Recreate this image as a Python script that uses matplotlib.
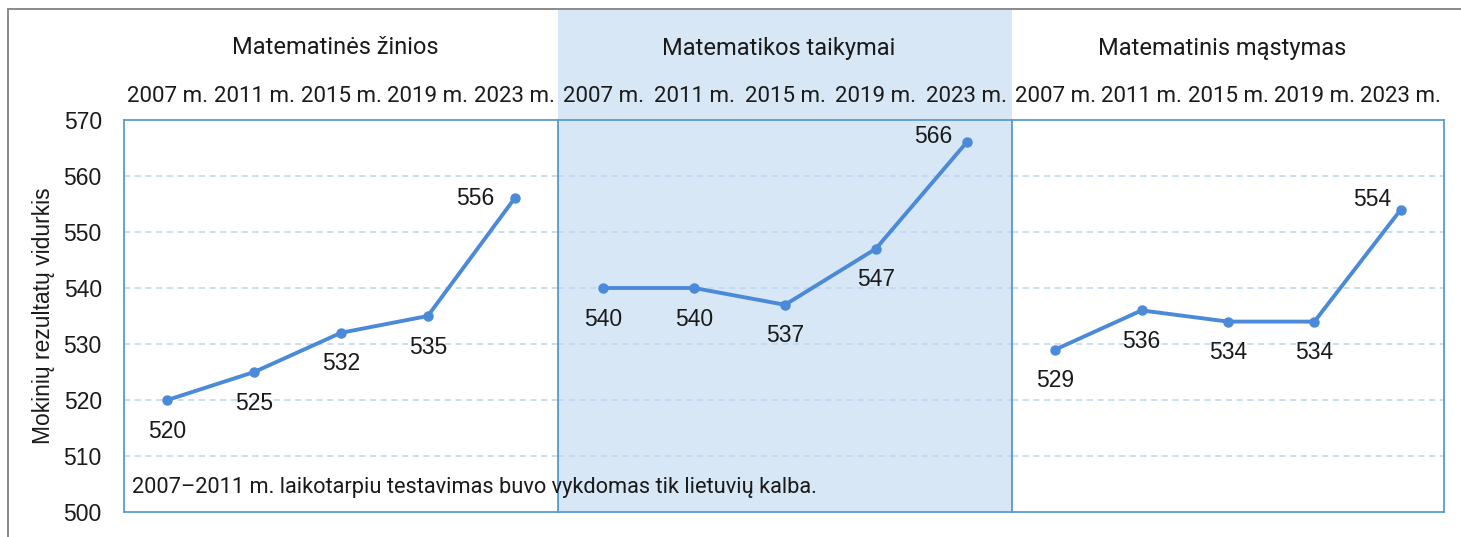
import matplotlib
matplotlib.use("Agg")
import matplotlib.pyplot as plt
from matplotlib.patches import Rectangle

# ---- data ----
panel_titles = ["Matematinės žinios", "Matematikos taikymai", "Matematinis mąstymas"]
years = ["2007 m.", "2011 m.", "2015 m.", "2019 m.", "2023 m."]
values_ziniu = [520, 525, 532, 535, 556]
values_taikymai = [540, 540, 537, 547, 566]
values_mastymas = [529, 536, 534, 534, 554]
y_ticks = [500, 510, 520, 530, 540, 550, 560, 570]
y_label = "Mokinių rezultatų vidurkis"
note = "2007–2011 m. laikotarpiu testavimas buvo vykdomas tik lietuvių kalba."

series = [values_ziniu, values_taikymai, values_mastymas]
# label placement (style, not data)
last_offsets = [(-39, 0), (-33, 6), (-29, 10)]

W, H = 1461, 537
fig = plt.figure(figsize=(W / 100, H / 100), dpi=100)
fig.patch.set_facecolor("white")

NUM_FONT = ["Liberation Sans", "DejaVu Sans"]
NARROW = ["Roboto", "DejaVu Sans"]

line_c = "#4a8ad8"
spine_c = "#5b9bd5"
grid_c = "#bcd6f0"
shade_c = "#d7e7f6"
txt_c = "#1a1a1a"

left_px, top_px, bot_px = 124, 120, 512
widths = [434, 454, 432]

# outer gray frame
fig.patches.append(Rectangle((8 / W, -0.2), 1.5, (H - 9) / H + 0.2,
                             transform=fig.transFigure, fill=False,
                             edgecolor="#8a8a8a", lw=1.4, zorder=-2))
# shaded band behind middle panel (extends above the plot area)
x0 = left_px + widths[0]
fig.patches.append(Rectangle((x0 / W, (H - bot_px) / H), widths[1] / W,
                             (bot_px - 10) / H, transform=fig.transFigure,
                             facecolor=shade_c, edgecolor="none", zorder=-1))

x_cursor = left_px
axes = []
for i in range(3):
    ax = fig.add_axes([x_cursor / W, (H - bot_px) / H, widths[i] / W,
                       (bot_px - top_px) / H])
    x_cursor += widths[i]
    axes.append(ax)
    ax.set_facecolor(shade_c if i == 1 else "white")
    ax.set_ylim(500, 570)
    ax.set_xlim(-0.5, 4.5)
    for yv in y_ticks[1:-1]:
        ax.axhline(yv, color=grid_c, lw=1.1, ls=(0, (4, 3)), zorder=1)
    for s in ax.spines.values():
        s.set_color(spine_c)
        s.set_linewidth(1.3)
    xs = list(range(len(years)))
    vals = series[i]
    ax.plot(xs, vals, color=line_c, lw=2.8, marker="o", ms=6.5, zorder=3,
            solid_capstyle="round")
    for j, v in enumerate(vals):
        off = last_offsets[i] if j == len(vals) - 1 else (0, -31)
        ax.annotate(str(v), (xs[j], v), xytext=off, textcoords="offset pixels",
                    ha="center", va="center", fontsize=16.5, family=NUM_FONT,
                    color=txt_c, zorder=4)
    ax.xaxis.tick_top()
    ax.set_xticks(xs)
    ax.set_xticklabels(years, family=NARROW, fontsize=16, color=txt_c)
    ax.tick_params(axis="x", length=0, pad=9)
    if i == 0:
        ax.set_yticks(y_ticks)
        ax.set_yticklabels([str(t) for t in y_ticks], family=NUM_FONT,
                           fontsize=16.5, color=txt_c)
        ax.tick_params(axis="y", length=0, pad=16)
        ax.set_ylabel(y_label, family=NUM_FONT, fontsize=16.5, color=txt_c,
                      labelpad=6)
    else:
        ax.set_yticks([])
    ax.annotate(panel_titles[i], (0.5, 1), xycoords="axes fraction",
                xytext=(-6, 72), textcoords="offset pixels", ha="center",
                va="center", fontsize=17, family=NARROW, color=txt_c)

axes[0].set_zorder(3)
axes[0].annotate(note, (0, 0), xycoords="axes fraction", xytext=(8, 24),
                 textcoords="offset pixels", ha="left", va="center",
                 fontsize=15.7, family=NARROW, color=txt_c, zorder=5,
                 annotation_clip=False)

fig.savefig("out.png", dpi=100)
